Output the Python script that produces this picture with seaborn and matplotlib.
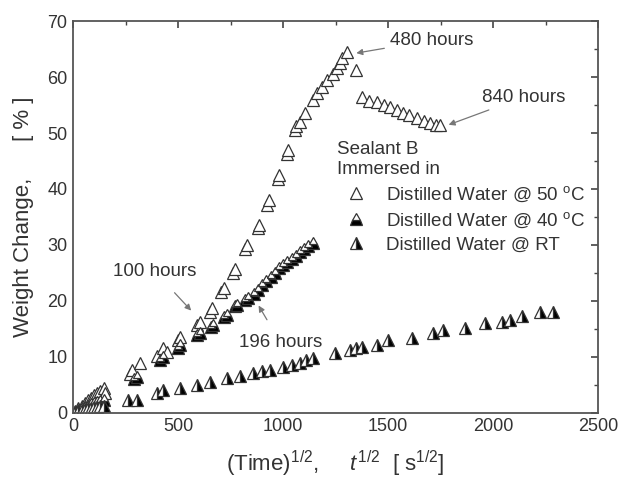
import matplotlib
matplotlib.use("Agg")
import matplotlib.pyplot as plt
import seaborn as sns
import numpy as np
import pandas as pd
from matplotlib.lines import Line2D
from matplotlib.ticker import MultipleLocator

sns.set_style("white")
plt.rcParams['font.family'] = ['Liberation Sans', 'DejaVu Sans']
plt.rcParams['mathtext.fontset'] = 'custom'
plt.rcParams['mathtext.rm'] = 'Liberation Sans'
plt.rcParams['mathtext.it'] = 'Liberation Sans:italic'

# ---- data ----
x_50 = [10, 25, 40, 55, 70, 85, 100, 115, 130, 145, 150,
        270, 281, 319, 400, 429, 445, 500, 510, 590, 605, 650, 660, 705, 719, 760, 771,
        820, 828, 880, 886, 925, 933, 975, 981, 1018, 1024, 1055, 1062, 1080, 1105, 1143,
        1162, 1185, 1209, 1235, 1257, 1270, 1281, 1305,
        1348, 1376, 1410, 1448, 1480, 1510, 1540, 1571, 1600, 1638, 1670, 1700, 1725, 1748]
y_50 = [0.3, 0.8, 1.3, 1.8, 2.3, 2.7, 3.1, 3.5, 3.9, 4.4, 3.6,
        7.0, 7.7, 8.9, 10.2, 11.6, 10.9, 13.0, 13.6, 15.7, 16.3, 18.0, 18.8, 21.5, 22.3, 25.0, 25.7,
        29.2, 30.0, 33.0, 33.6, 37.2, 38.0, 41.8, 42.5, 46.3, 47.0, 50.5, 51.2, 52.0, 53.5, 55.9,
        57.1, 58.3, 59.5, 60.5, 61.6, 62.5, 63.4, 64.5,
        61.2, 56.4, 55.8, 55.5, 55.0, 54.6, 54.1, 53.6, 53.2, 52.7, 52.2, 51.8, 51.5, 51.4]

x_40 = [10, 25, 40, 55, 70, 85, 100, 115, 130, 145,
        290, 305, 415, 429, 500, 510, 590, 605, 655, 667, 720, 733, 770, 781, 820, 833,
        860, 880, 900, 920, 940, 960, 980, 1000, 1020, 1040, 1060, 1080, 1100, 1120, 1143]
y_40 = [0.2, 0.5, 0.8, 1.0, 1.3, 1.5, 1.7, 1.9, 2.1, 2.3,
        6.0, 6.4, 9.5, 10.0, 11.6, 12.1, 13.9, 14.3, 15.3, 15.7, 17.1, 17.5, 19.0, 19.3, 20.2, 20.5,
        21.3, 22.0, 22.8, 23.5, 24.3, 25.0, 25.8, 26.5, 27.0, 27.5, 28.1, 28.7, 29.2, 29.8, 30.4]

x_rt = [10, 25, 40, 55, 70, 85, 100, 115, 130, 145,
        262, 305, 400, 429, 510, 590, 652, 733, 795, 857, 900, 938, 1000, 1040, 1081, 1110, 1143,
        1248, 1319, 1345, 1376, 1448, 1500, 1614, 1714, 1760, 1867, 1962, 2043, 2081, 2138,
        2224, 2286]
y_rt = [0.1, 0.3, 0.5, 0.6, 0.8, 0.9, 1.0, 1.1, 1.2, 1.3,
        2.3, 2.3, 3.5, 4.1, 4.5, 5.0, 5.5, 6.2, 6.6, 7.1, 7.4, 7.7, 8.2, 8.6, 8.9, 9.4, 9.8,
        10.7, 11.3, 11.6, 11.8, 12.1, 13.0, 13.4, 14.3, 14.8, 15.2, 16.0, 16.3, 16.6, 17.3,
        18.0, 18.0]

labels = ["Distilled Water @ 50 $^{\\mathrm{o}}$C",
          "Distilled Water @ 40 $^{\\mathrm{o}}$C",
          "Distilled Water @ RT"]

fig = plt.figure(figsize=(6.2, 4.8), dpi=100)
ax = fig.add_axes([0.118, 0.14, 0.847, 0.816])

edge = '#333333'
ms = 9
common = dict(estimator=None, sort=False, linestyle='', marker='^',
              markersize=ms, markeredgecolor=edge, markeredgewidth=0.9, ax=ax, legend=False)

sns.lineplot(x=x_50, y=y_50, color='white', markerfacecolor='white', **common)
sns.lineplot(x=x_40, y=y_40, color='black', markerfacecolor='black',
             fillstyle='bottom', markerfacecoloralt='white', **common)
sns.lineplot(x=x_rt, y=y_rt, color='black', markerfacecolor='black',
             fillstyle='right', markerfacecoloralt='white', **common)

ax.set_xlim(0, 2500)
ax.set_ylim(0, 70)
ax.xaxis.set_major_locator(MultipleLocator(500))
ax.xaxis.set_minor_locator(MultipleLocator(250))
ax.yaxis.set_major_locator(MultipleLocator(10))
ax.yaxis.set_minor_locator(MultipleLocator(5))
ax.tick_params(which='both', direction='in', top=True, right=True,
               colors='#444444', labelcolor='#333333', labelsize=13)
ax.tick_params(which='major', length=5, width=1.2, pad=4)
ax.tick_params(which='minor', length=3, width=1.0)
for s in ax.spines.values():
    s.set_color('#555555')
    s.set_linewidth(1.3)

ax.set_xlabel("(Time)$^{1/2}$,     $\\mathit{t}^{1/2}$  [ s$^{1/2}$]", fontsize=16,
              color='#333333', labelpad=10)
ax.set_ylabel("Weight Change,      [ % ]", fontsize=16, color='#333333')
ax.yaxis.set_label_coords(-0.075, 0.5)

fs = 13.5
arrow = dict(arrowstyle='-|>', color='#777777', lw=0.9, mutation_scale=9)
tc = '#333333'
ax.annotate("480 hours", xy=(1335, 64.2), xytext=(1510, 66.6), fontsize=fs, color=tc,
            va='center', ha='left', arrowprops=arrow)
ax.annotate("840 hours", xy=(1775, 51.3), xytext=(1945, 56.4), fontsize=fs, color=tc,
            va='center', ha='left', arrowprops=arrow)
ax.annotate("100 hours", xy=(571, 17.9), xytext=(390, 25.2), fontsize=fs, color=tc,
            va='center', ha='center', arrowprops=dict(arrow, shrinkA=9))
ax.annotate("196 hours", xy=(876, 19.6), xytext=(986, 12.6), fontsize=fs, color=tc,
            va='center', ha='center', arrowprops=dict(arrow, shrinkA=9))

handles = [
    Line2D([], [], linestyle='', marker='^', markersize=ms, markerfacecolor='white',
           markeredgecolor=edge, markeredgewidth=0.9),
    Line2D([], [], linestyle='', marker='^', markersize=ms, markerfacecolor='black',
           fillstyle='bottom', markerfacecoloralt='white', markeredgecolor=edge, markeredgewidth=0.9),
    Line2D([], [], linestyle='', marker='^', markersize=ms, markerfacecolor='black',
           fillstyle='right', markerfacecoloralt='white', markeredgecolor=edge, markeredgewidth=0.9),
]
leg = ax.legend(handles, labels, title="Sealant B\nImmersed in", loc='upper left',
                bbox_to_anchor=(0.477, 0.727), frameon=False, fontsize=fs,
                title_fontsize=fs, alignment='left', handletextpad=0.6, handlelength=2.0,
                labelspacing=0.35, labelcolor=tc, borderaxespad=0.3)
leg.get_title().set_color(tc)

fig.savefig("out.png", dpi=100)
